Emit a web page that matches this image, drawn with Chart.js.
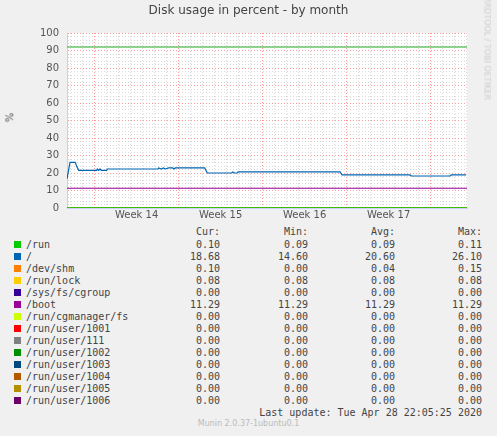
<!DOCTYPE html>
<html><head><meta charset="utf-8">
<script src="https://cdn.jsdelivr.net/npm/chart.js@4"></script>
<style>
body{margin:0;background:#f0f0f0;width:497px;height:436px;overflow:hidden;position:relative;font-family:"DejaVu Sans",sans-serif;color:#555}
#wrap{position:absolute;left:0;top:0;width:497px;height:225px}
.t{position:absolute;white-space:pre}
#lg{position:absolute;left:0;top:226px;font-family:"DejaVu Sans Mono",monospace;font-size:10px;color:#444}
.row{position:absolute;height:12px;line-height:12px;white-space:pre}
.sq{position:absolute;width:7px;height:7px;top:2px}
.num{position:absolute;text-align:right;width:80px}
</style></head><body>
<div id="wrap"><canvas id="c" width="497" height="225"></canvas></div>
<div class="t" style="left:0;width:497px;top:3px;text-align:center;font-size:12px;color:#444">Disk usage in percent - by month</div>
<div class="t" style="left:5px;top:112px;font-size:10px;transform:rotate(-90deg)">%</div>
<div class="t" style="left:427px;top:44px;font-size:8px;color:#ccc;transform:rotate(90deg);width:120px;text-align:center">RRDTOOL / TOBI OETIKER</div>
<div id="lg"></div>
<div class="t" style="left:0;width:497px;top:419px;text-align:center;font-size:8px;color:#bbb">Munin 2.0.37-1ubuntu0.1</div>
<script>
// x values are days; week boundaries at 0, 7, 14, 21, 28
const xMin = -2.3, xMax = 31.03;
const weekLabels = ['Week 14', 'Week 15', 'Week 16', 'Week 17'];
const rootX = [-2.3,-2.05,-1.61,-1.49,-1.33,0.17,0.23,0.34,0.45,0.56,1.01,1.06,5.28,5.34,5.56,5.73,5.89,6.17,6.51,6.62,6.73,9.17,9.39,11.42,11.51,11.67,11.89,11.95,20.45,20.62,26.28,26.39,29.62,29.73,30.95];
const rootY = [16.6,26.1,26.1,23.8,21.5,21.5,22.3,21.5,22.3,21.5,21.5,22.3,22.3,22.9,22.3,22.9,22.3,22.9,22.9,22.3,22.9,22.9,20.0,20.0,20.6,20.0,20.0,20.6,20.6,18.9,18.9,18.3,18.3,18.9,18.9];
const names = ['/run','/','/dev/shm','/run/lock','/sys/fs/cgroup','/boot','/run/cgmanager/fs','/run/user/1001','/run/user/111','/run/user/1002','/run/user/1003','/run/user/1004','/run/user/1005','/run/user/1006'];
const colors = ['#00cc00','#0066b3','#ff8000','#ffcc00','#330099','#990099','#ccff00','#ff0000','#808080','#008f00','#00487d','#b35a00','#b38f00','#6b006b'];
const cur = ['0.10','18.68','0.10','0.08','0.00','11.29','0.00','0.00','0.00','0.00','0.00','0.00','0.00','0.00'];
const mins = ['0.09','14.60','0.00','0.08','0.00','11.29','0.00','0.00','0.00','0.00','0.00','0.00','0.00','0.00'];
const avgs = ['0.09','20.60','0.04','0.08','0.00','11.29','0.00','0.00','0.00','0.00','0.00','0.00','0.00','0.00'];
const maxs = ['0.11','26.10','0.15','0.08','0.00','11.29','0.00','0.00','0.00','0.00','0.00','0.00','0.00','0.00'];
const flatValues = [0.1, null, 0.1, 0.08, 0, 11.29, 0, 0, 0, 0, 0, 0, 0, 0];
const warnLevel = 92;

const flat = v => [{x:xMin,y:v},{x:xMax,y:v}];
const datasets = [];
names.forEach((n,i) => {
  const data = i === 1 ? rootX.map((x,k)=>({x, y: rootY[k]})) : flat(flatValues[i]);
  datasets.push({ label:n, data, borderColor: colors[i], borderWidth: 1.2, pointRadius:0, tension:0 });
});
datasets.push({ label:'warn', data: flat(warnLevel), borderColor:'#22aa22', borderWidth:1, pointRadius:0 });

const plotBg = {
  id:'plotBg',
  beforeDraw(chart){
    const a = chart.chartArea, ctx = chart.ctx;
    ctx.save(); ctx.fillStyle = '#ffffff'; ctx.fillRect(a.left, a.top, a.right-a.left, a.bottom-a.top); ctx.restore();
  }
};

new Chart(document.getElementById('c'), {
  type:'line',
  data:{ datasets },
  plugins:[plotBg],
  options:{
    responsive:false, animation:false,
    layout:{ padding:{ top:33, right:30, left:0, bottom:0 } },
    plugins:{ legend:{display:false}, tooltip:{enabled:false} },
    scales:{
      x:{ type:'linear', min:xMin, max:xMax,
        afterBuildTicks: s => {
          const t = [];
          for (let d = -2; d <= 31; d++) { t.push(d); t.push(d + 0.5); }
          t.sort((a,b)=>a-b);
          s.ticks = t.map(value => ({value}));
        },
        afterFit: s => { s.height = 17; },
        ticks:{ autoSkip:false, maxRotation:0, padding:1, color:'#555', font:{family:'DejaVu Sans', size:10},
          callback: v => { const k = [3.5,10.5,17.5,24.5].indexOf(v); return k >= 0 ? weekLabels[k] : ''; } },
        grid:{ drawTicks:false, lineWidth:1,
          color: c => { const v = c.tick && c.tick.value; if (v == null) return 'transparent'; if (v % 1 !== 0) return 'rgba(0,0,0,0)'; return v % 7 === 0 ? '#ff9999' : '#d8d8d8'; } },
        border:{ display:true, color:'#ccccff', dash:[1,2] }
      },
      y:{ min:0, max:100,
        afterBuildTicks: s => { const t = []; for (let v = 0; v <= 100; v += 2) t.push({value:v}); s.ticks = t; },
        afterFit: s => { s.width = 67; },
        ticks:{ autoSkip:false, padding:8, color:'#555', font:{family:'DejaVu Sans', size:10},
          callback: v => v % 10 === 0 ? String(v) : '' },
        grid:{ drawTicks:false,
          color: c => { const v = c.tick && c.tick.value; return v % 10 === 0 ? '#ff9999' : '#d8d8d8'; } },
        border:{ display:true, color:'#ccccff', dash:[1,2] }
      }
    }
  }
});

// legend table
const lg = document.getElementById('lg');
function row(top, html){ const d = document.createElement('div'); d.className='row'; d.style.top = top+'px'; d.style.left='0'; d.style.width='497px'; d.innerHTML = html; lg.appendChild(d); }
const colR = [220, 308, 395, 482];
const numCells = vals => vals.map((v,k)=>`<span class="num" style="left:${colR[k]-80}px">${v}</span>`).join('');
row(0, numCells(['Cur:','Min:','Avg:','Max:']));
names.forEach((n,i) => {
  row(13 + i*12, `<span class="sq" style="left:14px;background:${colors[i]}"></span><span style="position:absolute;left:26px">${n}</span>` + numCells([cur[i],mins[i],avgs[i],maxs[i]]));
});
row(13 + 14*12, `<span class="num" style="left:180px;width:302px">Last update: Tue Apr 28 22:05:25 2020</span>`);
</script>
</body></html>
